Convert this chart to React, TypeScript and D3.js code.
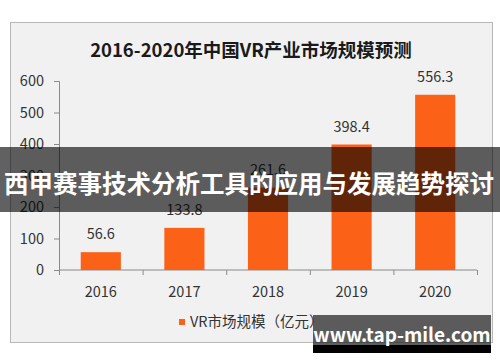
import * as d3 from 'd3'
import { useRef, useEffect } from 'react'

const years = ['2016', '2017', '2018', '2019', '2020']
const marketSize = [56.6, 133.8, 261.6, 398.4, 556.3]
const yTicks = [0, 100, 200, 300, 400, 500, 600]

const title = '2016-2020年中国VR产业市场规模预测'
const legendLabel = 'VR市场规模（亿元）'
const bannerText = '西甲赛事技术分析工具的应用与发展趋势探讨'
const watermark = 'www.tap-mile.com'

const FONT = '"Noto Sans CJK SC", "Noto Sans", sans-serif'
const ORANGE = '#fb6217'

const App = () => {
  const ref = useRef<SVGSVGElement>(null)

  useEffect(() => {
    drawChart()
  }, [])

  const drawChart = () => {
    const svg = d3.select(ref.current)
    svg.selectAll('*').remove()

    // frame
    svg
      .append('rect')
      .attr('x', 10.5)
      .attr('y', 22.5)
      .attr('width', 482)
      .attr('height', 320)
      .attr('fill', '#f1f1f1')
      .attr('stroke', '#b8b8b8')

    svg
      .append('text')
      .attr('x', 251)
      .attr('y', 57)
      .attr('text-anchor', 'middle')
      .attr('font-family', FONT)
      .attr('font-weight', 'bold')
      .attr('font-size', 18.5)
      .attr('fill', '#1a1a1a')
      .text(title)

    const x = d3.scaleBand().domain(years).range([59, 477]).paddingInner(0.52).paddingOuter(0.26)
    const y = d3.scaleLinear().domain([0, 600]).range([270, 81])

    // y axis
    const yAxis = svg
      .append('g')
      .attr('transform', 'translate(59,0)')
      .call(d3.axisLeft(y).tickValues(yTicks).tickSize(5).tickPadding(10))
    yAxis.selectAll('path, line').attr('stroke', '#8a8a8a')
    yAxis
      .selectAll('text')
      .attr('font-family', FONT)
      .attr('font-size', 14.5)
      .attr('fill', '#333')

    // x axis with ticks at band edges
    const xAxis = svg.append('g').attr('transform', 'translate(0,270)')
    xAxis
      .append('line')
      .attr('x1', 59)
      .attr('x2', 477)
      .attr('stroke', '#8a8a8a')
    const step = x.step()
    const edges = d3.range(years.length + 1).map((i) => 59 + i * step)
    xAxis
      .selectAll('line.tick')
      .data(edges)
      .enter()
      .append('line')
      .attr('class', 'tick')
      .attr('x1', (d) => d + 0.5)
      .attr('x2', (d) => d + 0.5)
      .attr('y1', 0)
      .attr('y2', 5)
      .attr('stroke', '#8a8a8a')
    xAxis
      .selectAll('text')
      .data(years)
      .enter()
      .append('text')
      .attr('x', (d) => (x(d) as number) + x.bandwidth() / 2)
      .attr('y', 27)
      .attr('text-anchor', 'middle')
      .attr('font-family', FONT)
      .attr('font-size', 14.5)
      .attr('fill', '#333')
      .text((d) => d)

    // bars
    svg
      .append('g')
      .selectAll('rect')
      .data(marketSize)
      .enter()
      .append('rect')
      .attr('x', (d, i) => x(years[i]) as number)
      .attr('y', (d) => y(d))
      .attr('width', x.bandwidth())
      .attr('height', (d) => y(0) - y(d))
      .attr('fill', ORANGE)

    // value labels
    svg
      .append('g')
      .selectAll('text')
      .data(marketSize)
      .enter()
      .append('text')
      .attr('x', (d, i) => (x(years[i]) as number) + x.bandwidth() / 2)
      .attr('y', (d) => y(d) - 13)
      .attr('text-anchor', 'middle')
      .attr('font-family', FONT)
      .attr('font-size', 14.5)
      .attr('fill', '#333')
      .text((d) => d.toFixed(1))

    // legend
    svg
      .append('rect')
      .attr('x', 179)
      .attr('y', 319)
      .attr('width', 6)
      .attr('height', 6)
      .attr('fill', ORANGE)
    svg
      .append('text')
      .attr('x', 190)
      .attr('y', 327)
      .attr('font-family', FONT)
      .attr('font-size', 14.5)
      .attr('fill', '#333')
      .text(legendLabel)

    // overlay banner
    svg
      .append('rect')
      .attr('x', 0)
      .attr('y', 147)
      .attr('width', 500)
      .attr('height', 65)
      .attr('fill', 'rgba(0,0,0,0.62)')
    svg
      .append('text')
      .attr('x', 249)
      .attr('y', 193)
      .attr('text-anchor', 'middle')
      .attr('font-family', FONT)
      .attr('font-weight', 'bold')
      .attr('font-size', 24.5)
      .attr('fill', '#fff')
      .text(bannerText)

    // watermark
    svg
      .append('rect')
      .attr('x', 313)
      .attr('y', 315)
      .attr('width', 178)
      .attr('height', 30)
      .attr('fill', 'rgba(40,40,40,0.75)')
    svg
      .append('rect')
      .attr('x', 313)
      .attr('y', 345)
      .attr('width', 178)
      .attr('height', 8)
      .attr('fill', '#000')
    svg
      .append('text')
      .attr('x', 402)
      .attr('y', 342)
      .attr('text-anchor', 'middle')
      .attr('font-family', FONT)
      .attr('font-weight', 'bold')
      .attr('font-size', 19)
      .attr('fill', '#fff')
      .text(watermark)
  }

  return (
    <svg
      ref={ref}
      width={500}
      height={362}
      style={{ position: 'absolute', left: 0, top: 0, background: '#fff' }}
    ></svg>
  )
}

export default App
